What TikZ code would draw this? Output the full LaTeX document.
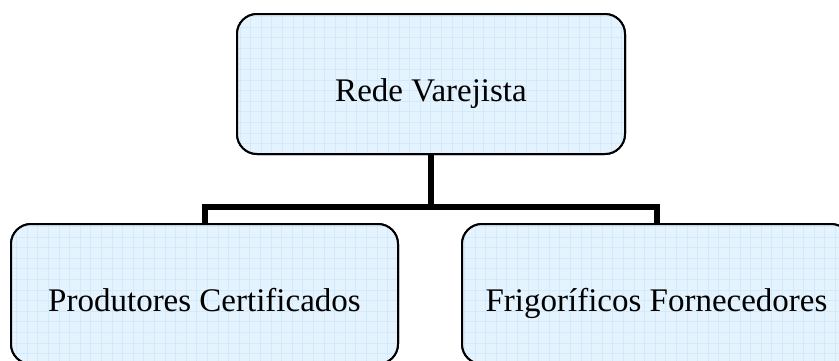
\documentclass[tikz,border=0pt]{standalone}
\usepackage{fontspec}
\setmainfont{Liberation Serif}
\definecolor{boxfill}{HTML}{E4F3FD}
\definecolor{gridc}{HTML}{D2EAFA}
\tikzset{
  orgbox/.style={draw=black, line width=2pt, rounded corners=20pt, fill=boxfill,
    minimum height=140pt, inner sep=0pt, text height=34pt, text depth=0pt,
    font=\fontsize{33}{40}\selectfont,
    path picture={\draw[gridc, line width=0.6pt, step=10.6pt]
      (path picture bounding box.south west) grid (path picture bounding box.north east);}},
  link/.style={line width=6pt, line join=miter, line cap=rect}
}
\begin{document}
\begin{tikzpicture}[x=1pt, y=-1pt]
\useasboundingbox (0,0) rectangle (839,360);
\clip (0,0) rectangle (839,360);
\fill[white] (0,0) rectangle (839,360);
\coordinate (j) at (431,207);
\node[orgbox, minimum width=388pt] (top) at (431,84) {Rede Varejista};
\node[orgbox, minimum width=387pt] (left) at (204.5,294) {Produtores Certificados};
\node[orgbox, minimum width=389pt] (right) at (656.5,294) {Frigoríficos Fornecedores};
\draw[link] (top.south) -- (j);
\draw[link] (left.north) |- (j) -| (right.north);
\node[orgbox, minimum width=388pt] at (431,84) {Rede Varejista};
\node[orgbox, minimum width=387pt] at (204.5,294) {Produtores Certificados};
\node[orgbox, minimum width=389pt] at (656.5,294) {Frigoríficos Fornecedores};
\end{tikzpicture}
\end{document}
